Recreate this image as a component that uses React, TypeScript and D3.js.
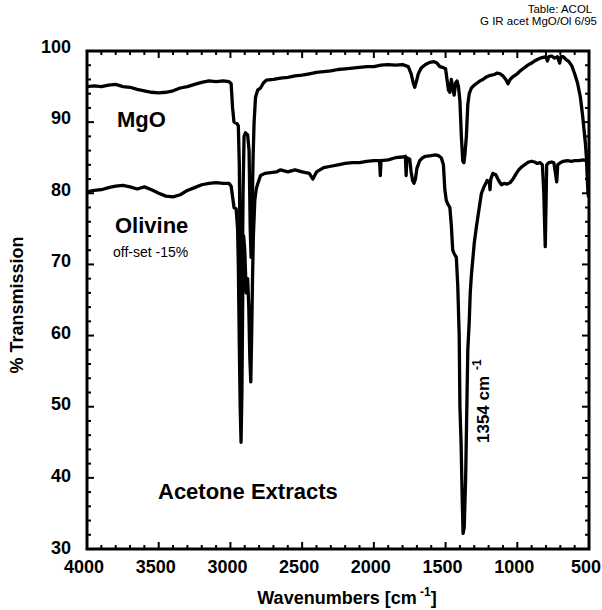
import React from 'react';
import * as d3 from 'd3';

// IR spectra, acetone extracts (wavenumber cm-1, % transmission)
const mgoWave = [
  4000, 3950, 3900, 3850, 3800, 3750, 3700, 3650, 3600, 3550, 3500, 3450, 3400, 3350, 3300, 3250,
  3200, 3150, 3100, 3050, 3010, 2995, 2985, 2975, 2955, 2945, 2938, 2932, 2926, 2920, 2912, 2905,
  2895, 2880, 2870, 2862, 2856, 2850, 2842, 2835, 2825, 2810, 2790, 2770, 2750, 2700, 2650, 2600,
  2550, 2500, 2450, 2400, 2350, 2300, 2250, 2200, 2150, 2100, 2050, 2000, 1950, 1900, 1850, 1800,
  1760, 1740, 1725, 1715, 1705, 1690, 1670, 1640, 1610, 1580, 1560, 1540, 1520, 1500, 1490, 1480,
  1470, 1460, 1450, 1440, 1430, 1420, 1410, 1400, 1390, 1380, 1372, 1365, 1355, 1345, 1335, 1320,
  1300, 1280, 1260, 1240, 1220, 1200, 1180, 1160, 1140, 1120, 1100, 1080, 1065, 1050, 1030, 1000,
  980, 960, 940, 920, 900, 880, 860, 840, 820, 800, 790, 780, 760, 740, 720, 705, 695, 680, 660,
  640, 620, 600, 580, 560, 545, 535, 525, 518, 512, 507, 503, 500,
];
const mgoValue = [
  95.0, 95.1, 95.0, 95.2, 95.3, 95.0, 94.9, 94.6, 94.4, 94.2, 94.1, 94.2, 94.4, 94.8, 95.0, 95.3,
  95.6, 95.8, 95.7, 95.8, 95.7, 95.4, 92.0, 90.0, 89.8, 89.5, 84.0, 70.0, 58.0, 62.0, 80.0, 88.0,
  88.5, 88.2, 86.0, 75.0, 71.0, 76.0, 85.0, 90.0, 93.5, 94.5, 94.8, 95.5, 95.9, 96.0, 96.2, 96.3,
  96.5, 96.6, 96.8, 97.0, 97.1, 97.2, 97.4, 97.5, 97.6, 97.7, 97.8, 97.8, 98.0, 98.1, 98.0, 98.1,
  97.8, 96.8, 95.5, 94.9, 95.6, 96.8, 97.6, 98.1, 98.4, 98.5, 98.3, 97.8, 97.7, 97.5, 96.0, 94.5,
  94.2, 96.0, 94.8, 93.8, 95.5, 95.8, 95.0, 93.0, 88.0, 84.5, 84.3, 85.5, 88.0, 92.5, 94.0, 94.8,
  95.2, 95.5, 95.8, 96.0, 96.3, 96.5, 96.6, 96.7, 96.9, 96.8, 96.5, 96.0, 95.4, 96.0, 96.4, 96.8,
  97.2, 97.5, 97.8, 98.1, 98.3, 98.6, 98.8, 99.0, 99.1, 99.2, 98.6, 99.2, 99.3, 99.0, 99.2, 98.3, 99.2, 99.2, 98.8,
  98.5, 97.9, 96.8, 95.5, 93.5, 91.0, 89.0, 87.0, 85.0, 82.0, 80.0, 79.5, 79.5,
];

// Olivine trace already off-set by -15 %
const olivineWave = [
  4000, 3950, 3900, 3850, 3800, 3750, 3700, 3650, 3600, 3550, 3500, 3450, 3400, 3350, 3300, 3250,
  3200, 3150, 3100, 3050, 3010, 2995, 2985, 2975, 2960, 2950, 2945, 2938, 2932, 2926, 2920, 2914,
  2908, 2900, 2890, 2880, 2872, 2865, 2858, 2852, 2846, 2840, 2830, 2820, 2810, 2790, 2760, 2720,
  2680, 2650, 2600, 2550, 2500, 2450, 2425, 2400, 2350, 2300, 2250, 2200, 2150, 2100, 2050, 2000,
  1960, 1955, 1950, 1900, 1850, 1800, 1780, 1775, 1770, 1750, 1740, 1730, 1720, 1710, 1700, 1680,
  1660, 1640, 1600, 1570, 1550, 1530, 1515, 1505, 1495, 1485, 1470, 1460, 1450, 1440, 1425, 1415,
  1405, 1400, 1392, 1385, 1378, 1370, 1360, 1345, 1335, 1328, 1320, 1300, 1285, 1265, 1250, 1230,
  1210, 1195, 1190, 1185, 1170, 1150, 1130, 1110, 1090, 1070, 1050, 1030, 1010, 990, 970, 950,
  920, 900, 880, 860, 840, 825, 815, 810, 805, 800, 795, 780, 760, 745, 735, 725, 718, 700, 680,
  650, 620, 600, 570, 540, 520, 500,
];
const olivineValue = [
  80.2, 80.4, 80.5, 80.8, 81.0, 81.1, 80.9, 80.6, 80.9, 80.5, 80.0, 79.6, 79.5, 79.8, 80.4, 80.8,
  81.2, 81.4, 81.5, 81.4, 81.4, 81.0, 79.5, 78.0, 77.8, 75.0, 70.0, 58.5, 50.0, 45.0, 52.0, 66.0,
  74.0, 72.0, 66.0, 68.0, 64.0, 57.0, 53.5, 60.0, 68.0, 74.0, 79.0, 80.6, 81.3, 82.5, 82.8, 82.9,
  83.0, 83.3, 83.0, 83.3, 83.0, 82.8, 82.0, 83.0, 83.6, 83.8, 84.0, 84.2, 84.3, 84.3, 84.5, 84.6,
  84.6, 82.5, 84.6, 84.7, 85.0, 85.1, 85.2, 82.5, 85.0, 84.8, 83.0, 81.8, 81.4, 82.0, 83.5, 84.6,
  85.0, 85.2, 85.3, 85.4, 85.3, 85.0, 84.0, 80.5, 79.0, 78.5, 78.0, 75.5, 72.0, 71.5, 71.0, 67.0,
  60.0, 50.0, 45.0, 38.0, 32.2, 33.0, 40.0, 58.0, 62.0, 66.0, 68.5, 73.0, 75.3, 78.0, 80.0, 81.0,
  81.8, 81.5, 80.5, 82.0, 82.8, 82.6, 81.8, 81.2, 81.4, 81.3, 81.5, 82.0, 82.7, 83.3, 83.7, 84.0,
  84.4, 84.5, 84.4, 84.2, 84.3, 84.0, 80.0, 76.0, 72.5, 78.0, 84.0, 84.3, 84.4, 84.3, 83.0, 81.6, 84.0, 84.3, 84.5,
  84.6, 84.5, 84.6, 84.6, 84.7, 84.6, 84.6,
];

const xTickLabels = [4000, 3500, 3000, 2500, 2000, 1500, 1000, 500];
const yTickLabels = [30, 40, 50, 60, 70, 80, 90, 100];

const W = 602;
const H = 610;
const margin = { left: 87, right: 13, top: 51, bottom: 61 };
const FONT = 'Liberation Sans, Arial, Helvetica, sans-serif';

export default function App() {
  const x = d3.scaleLinear().domain([4000, 500]).range([margin.left, W - margin.right]);
  const y = d3.scaleLinear().domain([30, 100]).range([H - margin.bottom, margin.top]);
  // the y labels sit a little above their ticks, more so near the top
  const yLabel = d3.scaleLinear().domain([30, 100]).range([H - margin.bottom - 2, margin.top - 5]);

  const line = d3
    .line<[number, number]>()
    .x((d) => x(d[0]))
    .y((d) => y(d[1]));

  const mgo = mgoWave.map((w, i) => [w, mgoValue[i]] as [number, number]);
  const olivine = olivineWave.map((w, i) => [w, olivineValue[i]] as [number, number]);

  const xMinor = d3.range(600, 4000, 100).filter((v) => v % 500 !== 0);
  const yMinor = d3.range(32, 100, 2).filter((v) => v % 10 !== 0);

  const x0 = x.range()[0];
  const x1 = x.range()[1];
  const y0 = y.range()[0];
  const y1 = y.range()[1];

  return (
    <svg
      width={W}
      height={H}
      style={{ position: 'absolute', left: 0, top: 0, background: '#fff' }}
      fontFamily={FONT}
    >
      {/* header */}
      <text x={560} y={13} fontSize={11.5} textAnchor="middle">Table: ACOL</text>
      <text x={597} y={25} fontSize={11.5} textAnchor="end">G  IR acet MgO/Ol 6/95</text>

      {/* spectra */}
      <g fill="none" stroke="#000" strokeWidth={3.3} strokeLinejoin="round">
        <path d={line(mgo) || ''} />
        <path d={line(olivine) || ''} />
      </g>

      {/* ticks, all four sides, pointing in */}
      <g stroke="#000" strokeWidth={2}>
        {xTickLabels.map((v) => (
          <g key={'xm' + v}>
            <line x1={x(v)} x2={x(v)} y1={y0} y2={y0 - 7} />
            <line x1={x(v)} x2={x(v)} y1={y1} y2={y1 + 7} />
          </g>
        ))}
        {xMinor.map((v) => (
          <g key={'xn' + v}>
            <line x1={x(v)} x2={x(v)} y1={y0} y2={y0 - 4} />
            <line x1={x(v)} x2={x(v)} y1={y1} y2={y1 + 4} />
          </g>
        ))}
        {yTickLabels.map((v) => (
          <g key={'ym' + v}>
            <line x1={x0} x2={x0 + 7} y1={y(v)} y2={y(v)} />
            <line x1={x1} x2={x1 - 7} y1={y(v)} y2={y(v)} />
          </g>
        ))}
        {yMinor.map((v) => (
          <g key={'yn' + v}>
            <line x1={x0} x2={x0 + 4} y1={y(v)} y2={y(v)} />
            <line x1={x1} x2={x1 - 4} y1={y(v)} y2={y(v)} />
          </g>
        ))}
      </g>

      {/* frame */}
      <rect x={x0} y={y1} width={x1 - x0} height={y0 - y1} fill="none" stroke="#000" strokeWidth={3} />

      {/* tick labels */}
      <g fontSize={18} fontWeight="bold">
        {xTickLabels.map((v) => (
          <text key={'xl' + v} x={x(v) - 3} y={y0 + 24} textAnchor="middle">{v}</text>
        ))}
        {yTickLabels.map((v) => (
          <text key={'yl' + v} x={x0 - 16} y={yLabel(v) + 6.5} textAnchor="end">{v}</text>
        ))}
      </g>

      {/* axis titles */}
      <text x={347} y={604} fontSize={18} fontWeight="bold" textAnchor="middle">
        Wavenumbers [cm
        <tspan dy={-8} fontSize={12}> -1</tspan>
        <tspan dy={8}>]</tspan>
      </text>
      <text
        transform={`translate(23,305) rotate(-90)`}
        fontSize={18}
        fontWeight="bold"
        textAnchor="middle"
      >
        % Transmission
      </text>

      {/* annotations */}
      <g fontWeight="bold" fontSize={22}>
        <text x={117} y={127}>MgO</text>
        <text x={115} y={233}>Olivine</text>
        <text x={158} y={499}>Acetone Extracts</text>
      </g>
      <text x={113} y={257} fontSize={14}>off-set -15%</text>
      <text transform={`translate(489,443) rotate(-90)`} fontSize={17} fontWeight="bold">
        1354 cm
        <tspan dx={6} dy={-8} fontSize={12}>-1</tspan>
      </text>
    </svg>
  );
}
